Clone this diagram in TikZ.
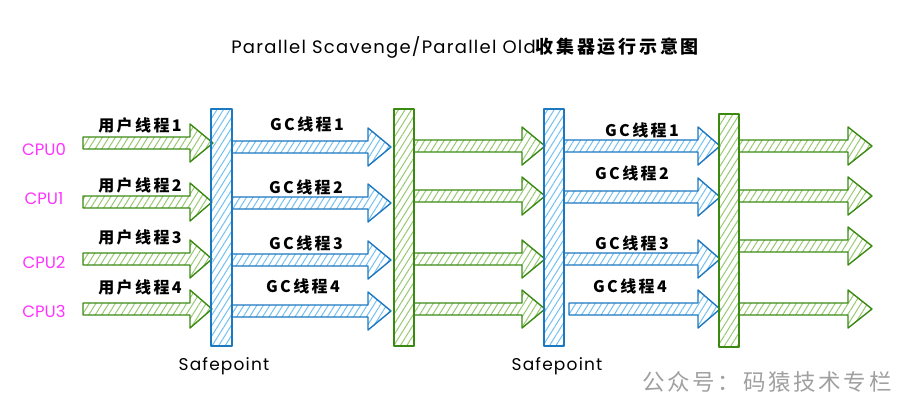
\documentclass[tikz,border=0pt]{standalone}
\usepackage{fontspec}
\setmainfont{Poppins}
\newfontfamily\titlefont{Poppins}[LetterSpace=7]
\newfontfamily\cjk{Noto Sans CJK SC}[LetterSpace=15]
\newfontfamily\cjkwm{Noto Sans CJK SC}[LetterSpace=12]
\usetikzlibrary{patterns.meta}
\definecolor{gstroke}{HTML}{3A8A12}
\definecolor{ghatch}{HTML}{98C872}
\definecolor{bstroke}{HTML}{1C78C0}
\definecolor{bhatch}{HTML}{74C0F0}
\definecolor{cpumag}{HTML}{FF33FF}
\definecolor{wmgray}{HTML}{A0A0A0}
\tikzset{
  gshape/.style={draw=gstroke, line width=1.4pt, line join=round,
    pattern={Lines[angle=58,distance=5.5pt,line width=1pt]}, pattern color=ghatch},
  bshape/.style={draw=bstroke, line width=1.4pt, line join=round,
    pattern={Lines[angle=58,distance=5.5pt,line width=1pt]}, pattern color=bhatch},
  lbl/.style={inner sep=0pt, font=\fontsize{16}{18}\selectfont\cjk\bfseries},
  cpulbl/.style={inner sep=0pt, text=cpumag, font=\fontsize{16.5}{18}\selectfont},
  safelbl/.style={inner sep=0pt, font=\fontsize{17}{20}\selectfont\titlefont},
}
% style, name, x start, x head base, x tip, y centre
\newcommand\hatcharrow[6]{%
  \draw[#1] ({#3},{#6-6}) -- ({#4},{#6-6}) -- ({#4},{#6-19}) -- ({#5},{#6})
    -- ({#4},{#6+19}) -- ({#4},{#6+6}) -- ({#3},{#6+6}) -- cycle;
  \coordinate (#2) at ({#5},{#6});}
\begin{document}
\begin{tikzpicture}[x=1pt,y=-1pt]
\useasboundingbox (0,0) rectangle (904,405);
% title
\node[inner sep=0pt] (title) at (465,47)
  {\fontsize{18}{22}\selectfont\titlefont Parallel Scavenge/Parallel Old{\cjk\bfseries\fontsize{18}{22}\selectfont 收集器运行示意图}};
% CPU labels
\node[cpulbl] (cpu0) at (44,149) {CPU0};
\node[cpulbl] (cpu1) at (44,199) {CPU1};
\node[cpulbl] (cpu2) at (44,262) {CPU2};
\node[cpulbl] (cpu3) at (44,311) {CPU3};
% column A: user threads
\hatcharrow{gshape}{a1}{83}{190}{213}{143}
\hatcharrow{gshape}{a2}{83}{190}{212}{202}
\hatcharrow{gshape}{a3}{83}{190}{212}{259}
\hatcharrow{gshape}{a4}{83}{190}{212}{309}
% column B: GC threads
\hatcharrow{bshape}{b1}{232}{368}{391}{147}
\hatcharrow{bshape}{b2}{232}{368}{391}{203}
\hatcharrow{bshape}{b3}{232}{368}{391}{260}
\hatcharrow{bshape}{b4}{232}{368}{391}{311}
% column C: user threads
\hatcharrow{gshape}{c1}{414}{522}{545}{146}
\hatcharrow{gshape}{c2}{414}{522}{545}{196}
\hatcharrow{gshape}{c3}{414}{522}{545}{259}
\hatcharrow{gshape}{c4}{414}{522}{545}{309}
% column D: GC threads
\hatcharrow{bshape}{d1}{564}{698}{720}{146}
\hatcharrow{bshape}{d2}{564}{698}{720}{197}
\hatcharrow{bshape}{d3}{564}{698}{720}{259}
\hatcharrow{bshape}{d4}{569}{698}{720}{309}
% column E: user threads
\hatcharrow{gshape}{e1}{739}{848}{872}{146}
\hatcharrow{gshape}{e2}{739}{848}{872}{196}
\hatcharrow{gshape}{e3}{739}{848}{872}{246}
\hatcharrow{gshape}{e4}{739}{848}{872}{309}
% bars
\draw[bshape] (211,109) rectangle (232,346);
\draw[gshape] (394,109) rectangle (414,346);
\draw[bshape] (544,109) rectangle (564,346);
\draw[gshape] (719,114) rectangle (739,347);
% thread labels
\node[lbl] (u1) at (140,125) {用户线程1};
\node[lbl] (u2) at (140,185) {用户线程2};
\node[lbl] (u3) at (140,237) {用户线程3};
\node[lbl] (u4) at (140,287) {用户线程4};
\node[lbl] (g1) at (307,124) {GC线程1};
\node[lbl] (g2) at (306,187) {GC线程2};
\node[lbl] (g3) at (306,243) {GC线程3};
\node[lbl] (g4) at (303,286) {GC线程4};
\node[lbl] (h1) at (642,130) {GC线程1};
\node[lbl] (h2) at (632,173) {GC线程2};
\node[lbl] (h3) at (632,243) {GC线程3};
\node[lbl] (h4) at (630,286) {GC线程4};
% safepoints
\node[safelbl] (sp1) at (224,366) {Safepoint};
\node[safelbl] (sp2) at (557,366) {Safepoint};
% watermark
\node[inner sep=0pt, text=wmgray, font=\fontsize{22.5}{26}\selectfont\cjkwm] (wm) at (767,382) {公众号：码猿技术专栏};
\end{tikzpicture}
\end{document}
